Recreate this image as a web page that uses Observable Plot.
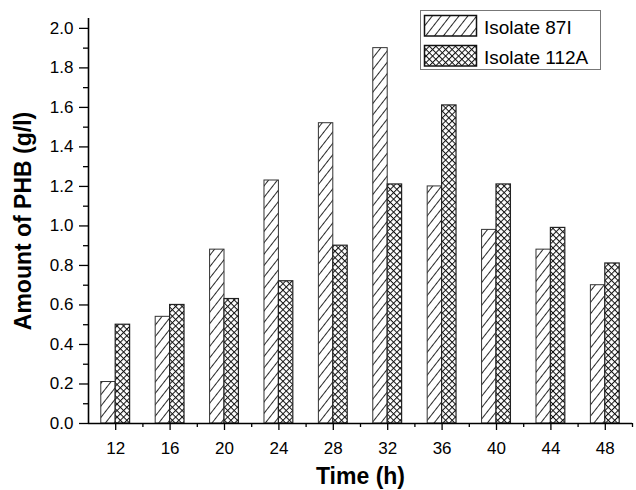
<!DOCTYPE html>
<html>
<head>
<meta charset="utf-8">
<script src="https://cdn.jsdelivr.net/npm/d3@7"></script>
<script src="https://cdn.jsdelivr.net/npm/@observablehq/plot@0.6"></script>
<style>
  body { margin: 0; background: #fff; }
  svg { display: block; }
</style>
</head>
<body>
<div id="chart"></div>
<script>
const times = [12, 16, 20, 24, 28, 32, 36, 40, 44, 48];
const isolate87I = [0.21, 0.54, 0.88, 1.23, 1.52, 1.90, 1.20, 0.98, 0.88, 0.70];
const isolate112A = [0.50, 0.60, 0.63, 0.72, 0.90, 1.21, 1.61, 1.21, 0.99, 0.81];
const seriesNames = ["Isolate 87I", "Isolate 112A"];
const minorTimes = [14, 18, 22, 26, 30, 34, 38, 42, 46, 50];
const yTicks = [0, 0.2, 0.4, 0.6, 0.8, 1.0, 1.2, 1.4, 1.6, 1.8, 2.0];
const yMinor = [0.1, 0.3, 0.5, 0.7, 0.9, 1.1, 1.3, 1.5, 1.7, 1.9];
const xLabel = "Time (h)";
const yLabel = "Amount of PHB (g/l)";

const barW = 1.06;
const dataA = times.map((t, i) => ({t, v: isolate87I[i]}));
const dataB = times.map((t, i) => ({t, v: isolate112A[i]}));

const font = "'Liberation Sans', Arial, Helvetica, sans-serif";

const svg = Plot.plot({
  width: 636,
  height: 490,
  marginLeft: 88,
  marginRight: 4,
  marginTop: 18,
  marginBottom: 67,
  style: {fontFamily: font, color: "#000", background: "#fff"},
  x: {domain: [10, 50]},
  y: {domain: [0, 2.05]},
  marks: [
    Plot.rect(dataA, {x1: d => d.t - barW, x2: d => d.t, y1: 0, y2: d => d.v,
      fill: "url(#hatch87)", stroke: "#333", strokeWidth: 1}),
    Plot.rect(dataB, {x1: d => d.t, x2: d => d.t + barW, y1: 0, y2: d => d.v,
      fill: "url(#cross112)", stroke: "#222", strokeWidth: 1.2}),
    Plot.axisX(times, {tickSize: 7, tickPadding: 11, fontSize: 17, tickFormat: d => d, label: null, strokeWidth: 1.3}),
    Plot.axisX(minorTimes, {tickSize: 4, tickFormat: () => "", label: null, strokeWidth: 1.3}),
    Plot.axisY(yTicks, {tickSize: 9, tickPadding: 6, fontSize: 17, tickFormat: d => d.toFixed(1), label: null, strokeWidth: 1.3}),
    Plot.axisY(yMinor, {tickSize: 5, tickFormat: () => "", label: null, strokeWidth: 1.3}),
    Plot.ruleX([10], {y1: 0, y2: 2.05, strokeWidth: 1.6}),
    Plot.ruleY([0], {x1: 10, x2: 50, strokeWidth: 1.6}),
    Plot.text([xLabel], {frameAnchor: "bottom", dy: 53, lineAnchor: "middle", fontSize: 23, fontWeight: "bold"}),
    Plot.text([yLabel], {frameAnchor: "left", dx: -65, rotate: -90, lineAnchor: "middle", textAnchor: "middle", fontSize: 23, fontWeight: "bold"})
  ]
});

const s = d3.select(svg);
const defs = s.insert("defs", ":first-child");
const h = defs.append("pattern").attr("id", "hatch87").attr("patternUnits", "userSpaceOnUse")
  .attr("width", 7).attr("height", 7).attr("patternTransform", "rotate(38)");
h.append("rect").attr("width", 7).attr("height", 7).attr("fill", "#fff");
h.append("line").attr("x1", 0.5).attr("y1", 0).attr("x2", 0.5).attr("y2", 7).attr("stroke", "#111").attr("stroke-width", 0.9);
const c = defs.append("pattern").attr("id", "cross112").attr("patternUnits", "userSpaceOnUse")
  .attr("width", 4.6).attr("height", 4.6).attr("patternTransform", "rotate(45)");
c.append("rect").attr("width", 4.6).attr("height", 4.6).attr("fill", "#fff");
c.append("line").attr("x1", 0.5).attr("y1", 0).attr("x2", 0.5).attr("y2", 4.6).attr("stroke", "#111").attr("stroke-width", 1);
c.append("line").attr("x1", 0).attr("y1", 0.5).attr("x2", 4.6).attr("y2", 0.5).attr("stroke", "#111").attr("stroke-width", 1);

const lg = s.append("g").attr("font-family", font).attr("text-anchor", "start");
lg.append("rect").attr("x", 420.5).attr("y", 10.5).attr("width", 180).attr("height", 59)
  .attr("fill", "#fff").attr("stroke", "#777").attr("stroke-width", 1);
const fills = ["url(#hatch87)", "url(#cross112)"];
seriesNames.forEach((name, i) => {
  lg.append("rect").attr("x", 424.5).attr("y", 15.5 + i * 30).attr("width", 52).attr("height", 20.5)
    .attr("fill", fills[i]).attr("stroke", "#111").attr("stroke-width", 1.5);
  lg.append("text").attr("x", 484).attr("y", 34 + i * 30).attr("font-size", 19)
    .attr("text-anchor", "start").attr("fill", "#000").text(name);
});

document.getElementById("chart").appendChild(svg);
</script>
</body>
</html>
